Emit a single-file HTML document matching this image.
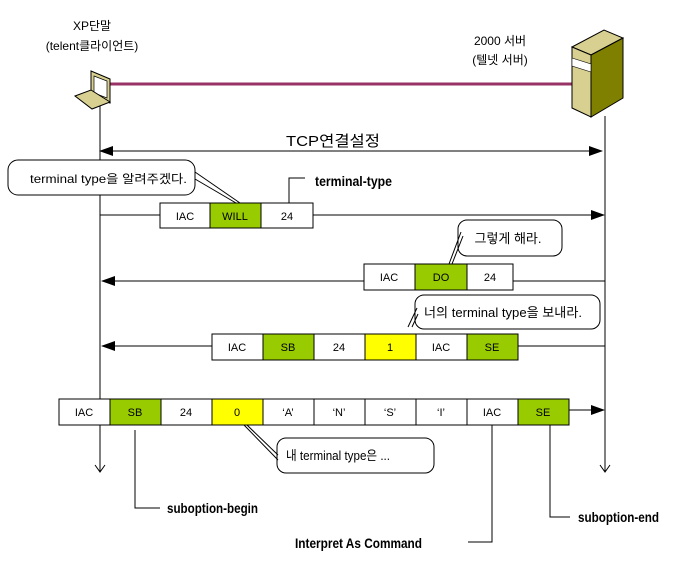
<!DOCTYPE html>
<html><head><meta charset="utf-8"><style>
body{margin:0;background:#fff}
svg text{font-family:"Liberation Sans","Noto Sans CJK KR",sans-serif;fill:#000}
</style></head><body>
<svg width="680" height="573" viewBox="0 0 680 573" xmlns="http://www.w3.org/2000/svg">
<defs>
<marker id="b" markerWidth="14" markerHeight="10" refX="13" refY="5" orient="auto-start-reverse" markerUnits="userSpaceOnUse"><path d="M0,0L14,5L0,10z" fill="#000"/></marker>
</defs>
<g font-size="12" text-anchor="middle">
<text x="92" y="30">XP단말</text>
<text x="92" y="50">(telent클라이언트)</text>
<text x="500" y="45">2000 서버</text>
<text x="500" y="64">(텔넷 서버)</text>
</g>
<line x1="108" y1="84" x2="575" y2="84" stroke="#993366" stroke-width="3"/>
<!-- laptop -->
<polygon points="91,71 110,79 110,103 91,96" fill="#d8d090" stroke="#000"/>
<polygon points="94,76 107,81 107,98 94,93" fill="#fff" stroke="#000" stroke-width="0.7"/>
<polygon points="75,96 91,90 110,102 92,109" fill="#d8d090" stroke="#000"/>
<!-- server -->
<polygon points="572,47 604,30 623,38 591,55" fill="#d8d090" stroke="#000"/>
<polygon points="572,47 591,55 591,117 572,108" fill="#d8d090" stroke="#000"/>
<polygon points="591,55 623,38 623,98 591,117" fill="#808000" stroke="#000"/>
<polygon points="572,58 591,64 591,72 572,66" fill="#fff" stroke="#000" stroke-width="0.6"/>
<g stroke="#000" fill="none">
<line x1="100" y1="106" x2="100" y2="472"/>
<path d="M95,465 L100,472 L105,465"/>
<line x1="605" y1="116" x2="605" y2="472"/>
<path d="M600,465 L605,472 L610,465"/>
<line x1="100" y1="151" x2="602" y2="151" marker-start="url(#b)" marker-end="url(#b)"/>
</g>
<text x="286" y="146" font-size="15" textLength="94" lengthAdjust="spacingAndGlyphs">TCP연결설정</text>
<!-- bubble 1 -->
<rect x="8" y="160" width="187" height="35" rx="10" fill="#fff" stroke="#000"/>
<path d="M195,172 L240,203 M195,179 L236,203" stroke="#000" fill="none"/>
<text x="30" y="183" font-size="12" textLength="157" lengthAdjust="spacingAndGlyphs">terminal type을 알려주겠다.</text>
<path d="M289,203 V178 H305" stroke="#000" fill="none"/>
<text x="315" y="186" font-size="14" font-weight="bold" textLength="77" lengthAdjust="spacingAndGlyphs">terminal-type</text>
<!-- row 1 -->
<line x1="100" y1="215" x2="160" y2="215" stroke="#000"/>
<line x1="313" y1="215" x2="604" y2="215" stroke="#000" marker-end="url(#b)"/>
<g stroke="#000">
<rect x="160" y="203" width="50" height="25" fill="#fff"/>
<rect x="210" y="203" width="51" height="25" fill="#99cc00"/>
<rect x="261" y="203" width="52" height="25" fill="#fff"/>
</g>
<g font-size="11" text-anchor="middle"><text x="185" y="220">IAC</text><text x="235" y="220">WILL</text><text x="287" y="220">24</text></g>
<!-- bubble 2 -->
<rect x="458" y="220" width="104" height="36" rx="9" fill="#fff" stroke="#000"/>
<path d="M461,232 L449,264 M463,236 L452,264" stroke="#000" fill="none"/>
<text x="508" y="243" font-size="13" text-anchor="middle">그렇게 해라.</text>
<!-- row 2 -->
<line x1="102" y1="281" x2="364" y2="281" stroke="#000" marker-start="url(#b)"/>
<line x1="513" y1="281" x2="605" y2="281" stroke="#000"/>
<g stroke="#000">
<rect x="364" y="264" width="51" height="26" fill="#fff"/>
<rect x="415" y="264" width="52" height="26" fill="#99cc00"/>
<rect x="467" y="264" width="46" height="26" fill="#fff"/>
</g>
<g font-size="11" text-anchor="middle"><text x="389" y="281">IAC</text><text x="441" y="281">DO</text><text x="490" y="281">24</text></g>
<!-- bubble 3 -->
<rect x="415" y="295" width="185" height="34" rx="9" fill="#fff" stroke="#000"/>
<path d="M417,308 L408,327 M418,314 L412,327" stroke="#000" fill="none"/>
<text x="424" y="317" font-size="13" textLength="158" lengthAdjust="spacingAndGlyphs">너의 terminal type을 보내라.</text>
<!-- row 3 -->
<line x1="102" y1="346" x2="212" y2="346" stroke="#000" marker-start="url(#b)"/>
<line x1="518" y1="346" x2="605" y2="346" stroke="#000"/>
<g stroke="#000">
<rect x="212" y="334" width="51" height="26" fill="#fff"/>
<rect x="263" y="334" width="51" height="26" fill="#99cc00"/>
<rect x="314" y="334" width="51" height="26" fill="#fff"/>
<rect x="365" y="334" width="51" height="26" fill="#ffff00"/>
<rect x="416" y="334" width="51" height="26" fill="#fff"/>
<rect x="467" y="334" width="51" height="26" fill="#99cc00"/>
</g>
<g font-size="11" text-anchor="middle"><text x="237" y="351">IAC</text><text x="288" y="351">SB</text><text x="339" y="351">24</text><text x="390" y="351">1</text><text x="441" y="351">IAC</text><text x="492" y="351">SE</text></g>
<!-- row 4 -->
<line x1="569" y1="410" x2="604" y2="410" stroke="#000" marker-end="url(#b)"/>
<g stroke="#000">
<rect x="59" y="399" width="51" height="26" fill="#fff"/>
<rect x="110" y="399" width="51" height="26" fill="#99cc00"/>
<rect x="161" y="399" width="51" height="26" fill="#fff"/>
<rect x="212" y="399" width="51" height="26" fill="#ffff00"/>
<rect x="263" y="399" width="51" height="26" fill="#fff"/>
<rect x="314" y="399" width="51" height="26" fill="#fff"/>
<rect x="365" y="399" width="51" height="26" fill="#fff"/>
<rect x="416" y="399" width="51" height="26" fill="#fff"/>
<rect x="467" y="399" width="51" height="26" fill="#fff"/>
<rect x="518" y="399" width="51" height="26" fill="#99cc00"/>
</g>
<g font-size="11" text-anchor="middle"><text x="84" y="416">IAC</text><text x="135" y="416">SB</text><text x="186" y="416">24</text><text x="237" y="416">0</text><text x="288" y="416">‘A’</text><text x="339" y="416">‘N’</text><text x="390" y="416">‘S’</text><text x="441" y="416">‘I’</text><text x="492" y="416">IAC</text><text x="543" y="416">SE</text></g>
<!-- bubble 4 -->
<rect x="277" y="438" width="157" height="35" rx="9" fill="#fff" stroke="#000"/>
<path d="M244,425 L278,460 M247,425 L278,455" stroke="#000" fill="none"/>
<text x="286" y="460" font-size="13" textLength="104" lengthAdjust="spacingAndGlyphs">내 terminal type은 ...</text>
<g stroke="#000" fill="none">
<path d="M135,430 V508 H160"/>
<path d="M492,425 V542 H468"/>
<path d="M550,425 V517 H570"/>
</g>
<g font-size="14" font-weight="bold">
<text x="167" y="513" textLength="91" lengthAdjust="spacingAndGlyphs">suboption-begin</text>
<text x="295" y="548" textLength="127" lengthAdjust="spacingAndGlyphs">Interpret As Command</text>
<text x="578" y="522" textLength="81" lengthAdjust="spacingAndGlyphs">suboption-end</text>
</g>
</svg>
</body></html>
